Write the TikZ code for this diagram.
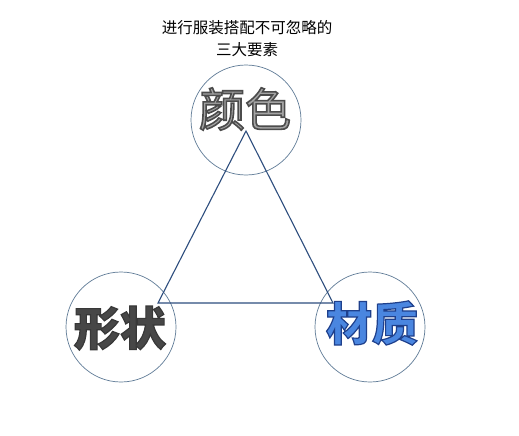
\documentclass[tikz,border=0pt]{standalone}
\usepackage{fontspec}
\newfontfamily\cjk{Noto Sans CJK SC}
\definecolor{ringcol}{HTML}{5E7A96}
\definecolor{tricol}{HTML}{2E4E7E}
\definecolor{grayfill}{HTML}{A4A4A4}
\definecolor{darkfill}{HTML}{474747}
\definecolor{bluefill}{HTML}{4A86E0}
\newcommand{\outl}[3]{\special{pdf:literal direct 2 Tr #1 w #2 RG}#3\special{pdf:literal direct 0 Tr 0.4 w}}
\tikzset{
  ring/.style={circle, draw=ringcol, line width=0.7pt, minimum size=110pt, inner sep=0pt},
  bigtxt/.style={font=\cjk\fontsize{46}{50}\selectfont\bfseries, inner sep=0pt},
  lighttxt/.style={font=\cjk\fontsize{46}{50}\selectfont, inner sep=0pt},
  titletxt/.style={font=\cjk\fontsize{15.5}{22}\selectfont, align=center, inner sep=0pt},
  edge/.style={draw=tricol, line width=1.1pt}
}
\begin{document}
\begin{tikzpicture}[x=1pt,y=-1pt]
\useasboundingbox[fill=white] (0,0) rectangle (519,436);
\node[titletxt] (title) at (247,39) {进行服装搭配不可忽略的\\三大要素};
\node[ring] (top) at (246,120) {};
\node[ring] (left) at (121,327) {};
\node[ring] (right) at (370,327) {};
\coordinate (A) at (246,131);
\coordinate (B) at (158,303);
\coordinate (C) at (333,303);
\draw[edge] (A) -- (B) -- (C) -- cycle;
\node[lighttxt, text=grayfill] (t1) at (245,109) {\outl{1.6}{0.3 0.3 0.3}{颜色}};
\node[bigtxt, text=darkfill] (t2) at (120,328) {\outl{1.2}{0.22 0.22 0.22}{形状}};
\node[bigtxt, text=bluefill] (t3) at (372,323) {\outl{1.2}{0.12 0.25 0.55}{材质}};
\end{tikzpicture}
\end{document}
